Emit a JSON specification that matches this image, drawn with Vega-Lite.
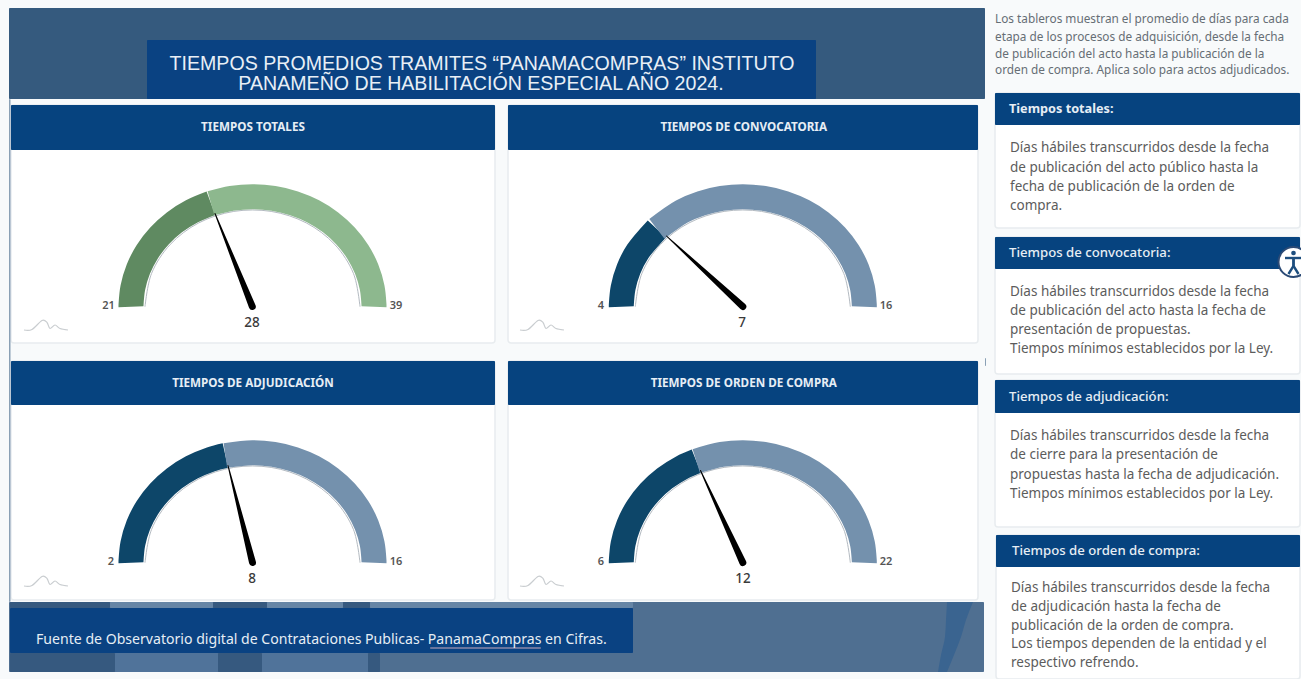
{"$schema":"https://vega.github.io/schema/vega-lite/v6.json","width":1301,"height":679,"autosize":"none","padding":0,"background":"#f8fafb","config":{"view":{"stroke":null}},
"datasets":{
"tarjetas":[{"x":11,"x2":495,"y":105,"y2":343},{"x":508,"x2":978,"y":105,"y2":343},{"x":11,"x2":495,"y":361,"y2":600},{"x":508,"x2":978,"y":361,"y2":600},{"x":995,"x2":1300,"y":93,"y2":228},{"x":995,"x2":1300,"y":237,"y2":374},{"x":995,"x2":1300,"y":380,"y2":527},{"x":996,"x2":1300,"y":535,"y2":679}],
"bloques":[{"t":"banda","x":9,"x2":985,"y":8,"y2":99},{"t":"titulo","x":147,"x2":816,"y":40,"y2":99},{"t":"filete","x":9,"x2":10.5,"y":99,"y2":602},{"t":"filete","x":985,"x2":986,"y":358,"y2":366},{"t":"pie","x":9,"x2":984,"y":602,"y2":672},{"t":"oscuro","x":10,"x2":110,"y":602,"y2":608},{"t":"claro","x":110,"x2":213,"y":602,"y2":608},{"t":"oscuro","x":213,"x2":267,"y":602,"y2":608},{"t":"claro","x":267,"x2":343,"y":602,"y2":608},{"t":"oscuro","x":343,"x2":370,"y":602,"y2":608},{"t":"claro","x":370,"x2":633,"y":602,"y2":608},{"t":"oscuro","x":10,"x2":115,"y":653,"y2":672},{"t":"medio","x":115,"x2":218,"y":653,"y2":672},{"t":"oscuro","x":218,"x2":262,"y":653,"y2":672},{"t":"medio","x":262,"x2":368,"y":653,"y2":672},{"t":"oscuro","x":368,"x2":380,"y":653,"y2":672},{"t":"titulo","x":10,"x2":633,"y":608,"y2":653},{"t":"subrayado","x":430,"x2":541,"y":647.5,"y2":648.5},{"t":"azul","x":11,"x2":495,"y":105,"y2":150},{"t":"azul","x":508,"x2":978,"y":105,"y2":150},{"t":"azul","x":11,"x2":495,"y":361,"y2":405},{"t":"azul","x":508,"x2":978,"y":361,"y2":405},{"t":"azul","x":995,"x2":1300,"y":93,"y2":125},{"t":"azul","x":995,"x2":1300,"y":237,"y2":269},{"t":"azul","x":995,"x2":1300,"y":380,"y2":413},{"t":"azul","x":996,"x2":1300,"y":535,"y2":567}],
"trazo":[{"y":602,"x":947,"x2":973},{"y":620,"x":946,"x2":966},{"y":637,"x":945,"x2":961},{"y":655,"x":941,"x2":954},{"y":672,"x":938,"x2":947}],
"anillo":[
{"g":"T","c":"vo","x":131.0,"y":306.7},{"g":"T","c":"vo","x":131.02,"y":304.8},{"g":"T","c":"vo","x":132.85,"y":287.6},{"g":"T","c":"vo","x":138.33,"y":269.1},{"g":"T","c":"vo","x":147.28,"y":251.7},{"g":"T","c":"vo","x":159.43,"y":236.0},{"g":"T","c":"vo","x":174.4,"y":222.4},{"g":"T","c":"vo","x":191.75,"y":211.4},{"g":"T","c":"vo","x":210.95,"y":203.3},
{"g":"T","c":"vc","x":210.95,"y":203.3},{"g":"T","c":"vc","x":231.41,"y":198.4},{"g":"T","c":"vc","x":252.5,"y":196.7},{"g":"T","c":"vc","x":273.59,"y":198.4},{"g":"T","c":"vc","x":294.05,"y":203.3},{"g":"T","c":"vc","x":313.25,"y":211.4},{"g":"T","c":"vc","x":330.6,"y":222.4},{"g":"T","c":"vc","x":345.57,"y":236.0},{"g":"T","c":"vc","x":357.72,"y":251.7},{"g":"T","c":"vc","x":366.67,"y":269.1},{"g":"T","c":"vc","x":372.15,"y":287.6},{"g":"T","c":"vc","x":373.98,"y":304.8},{"g":"T","c":"vc","x":374.0,"y":306.7},
{"g":"C","c":"ao","x":621.3,"y":306.7},{"g":"C","c":"ao","x":621.32,"y":304.8},{"g":"C","c":"ao","x":623.15,"y":287.6},{"g":"C","c":"ao","x":628.63,"y":269.1},{"g":"C","c":"ao","x":637.58,"y":251.7},{"g":"C","c":"ao","x":656.89,"y":228.9},
{"g":"C","c":"ac","x":656.89,"y":228.9},{"g":"C","c":"ac","x":682.05,"y":211.4},{"g":"C","c":"ac","x":701.25,"y":203.3},{"g":"C","c":"ac","x":721.71,"y":198.4},{"g":"C","c":"ac","x":742.8,"y":196.7},{"g":"C","c":"ac","x":763.89,"y":198.4},{"g":"C","c":"ac","x":784.35,"y":203.3},{"g":"C","c":"ac","x":803.55,"y":211.4},{"g":"C","c":"ac","x":820.9,"y":222.4},{"g":"C","c":"ac","x":835.87,"y":236.0},{"g":"C","c":"ac","x":848.02,"y":251.7},{"g":"C","c":"ac","x":856.97,"y":269.1},{"g":"C","c":"ac","x":862.45,"y":287.6},{"g":"C","c":"ac","x":864.28,"y":304.8},{"g":"C","c":"ac","x":864.3,"y":306.7},
{"g":"A","c":"ao","x":131.0,"y":562.7},{"g":"A","c":"ao","x":131.02,"y":560.8},{"g":"A","c":"ao","x":132.85,"y":543.6},{"g":"A","c":"ao","x":138.33,"y":525.1},{"g":"A","c":"ao","x":147.28,"y":507.7},{"g":"A","c":"ao","x":159.43,"y":492.0},{"g":"A","c":"ao","x":174.4,"y":478.4},{"g":"A","c":"ao","x":191.75,"y":467.4},{"g":"A","c":"ao","x":210.95,"y":459.3},{"g":"A","c":"ao","x":225.37,"y":455.5},
{"g":"A","c":"ac","x":225.37,"y":455.5},{"g":"A","c":"ac","x":252.5,"y":452.7},{"g":"A","c":"ac","x":273.59,"y":454.4},{"g":"A","c":"ac","x":294.05,"y":459.3},{"g":"A","c":"ac","x":313.25,"y":467.4},{"g":"A","c":"ac","x":330.6,"y":478.4},{"g":"A","c":"ac","x":345.57,"y":492.0},{"g":"A","c":"ac","x":357.72,"y":507.7},{"g":"A","c":"ac","x":366.67,"y":525.1},{"g":"A","c":"ac","x":372.15,"y":543.6},{"g":"A","c":"ac","x":373.98,"y":560.8},{"g":"A","c":"ac","x":374.0,"y":562.7},
{"g":"O","c":"ao","x":621.3,"y":562.7},{"g":"O","c":"ao","x":621.32,"y":560.8},{"g":"O","c":"ao","x":623.15,"y":543.6},{"g":"O","c":"ao","x":628.63,"y":525.1},{"g":"O","c":"ao","x":637.58,"y":507.7},{"g":"O","c":"ao","x":649.73,"y":492.0},{"g":"O","c":"ao","x":664.7,"y":478.4},{"g":"O","c":"ao","x":682.05,"y":467.4},{"g":"O","c":"ao","x":696.3,"y":461.1},
{"g":"O","c":"ac","x":696.3,"y":461.1},{"g":"O","c":"ac","x":721.71,"y":454.4},{"g":"O","c":"ac","x":742.8,"y":452.7},{"g":"O","c":"ac","x":763.89,"y":454.4},{"g":"O","c":"ac","x":784.35,"y":459.3},{"g":"O","c":"ac","x":803.55,"y":467.4},{"g":"O","c":"ac","x":820.9,"y":478.4},{"g":"O","c":"ac","x":835.87,"y":492.0},{"g":"O","c":"ac","x":848.02,"y":507.7},{"g":"O","c":"ac","x":856.97,"y":525.1},{"g":"O","c":"ac","x":862.45,"y":543.6},{"g":"O","c":"ac","x":864.28,"y":560.8},{"g":"O","c":"ac","x":864.3,"y":562.7}],
"gris":[
{"g":"T","x":145.0,"y":306.7},{"g":"T","x":151.5,"y":273.6},{"g":"T","x":170.2,"y":244.5},{"g":"T","x":198.75,"y":222.9},{"g":"T","x":233.8,"y":211.4},{"g":"T","x":271.2,"y":211.4},{"g":"T","x":306.25,"y":222.9},{"g":"T","x":334.8,"y":244.5},{"g":"T","x":353.5,"y":273.6},{"g":"T","x":360.0,"y":306.7},
{"g":"C","x":635.3,"y":306.7},{"g":"C","x":641.8,"y":273.6},{"g":"C","x":660.5,"y":244.5},{"g":"C","x":689.05,"y":222.9},{"g":"C","x":724.1,"y":211.4},{"g":"C","x":761.5,"y":211.4},{"g":"C","x":796.55,"y":222.9},{"g":"C","x":825.1,"y":244.5},{"g":"C","x":843.8,"y":273.6},{"g":"C","x":850.3,"y":306.7},
{"g":"A","x":145.0,"y":562.7},{"g":"A","x":151.5,"y":529.6},{"g":"A","x":170.2,"y":500.5},{"g":"A","x":198.75,"y":478.9},{"g":"A","x":233.8,"y":467.4},{"g":"A","x":271.2,"y":467.4},{"g":"A","x":306.25,"y":478.9},{"g":"A","x":334.8,"y":500.5},{"g":"A","x":353.5,"y":529.6},{"g":"A","x":360.0,"y":562.7},
{"g":"O","x":635.3,"y":562.7},{"g":"O","x":641.8,"y":529.6},{"g":"O","x":660.5,"y":500.5},{"g":"O","x":689.05,"y":478.9},{"g":"O","x":724.1,"y":467.4},{"g":"O","x":761.5,"y":467.4},{"g":"O","x":796.55,"y":478.9},{"g":"O","x":825.1,"y":500.5},{"g":"O","x":843.8,"y":529.6},{"g":"O","x":850.3,"y":562.7}],
"agujas":[{"g":"T","p":0,"x":252.3,"y":306.5},{"g":"T","p":1,"x":215,"y":213.5},{"g":"C","p":0,"x":742.8,"y":306.5},{"g":"C","p":1,"x":666.5,"y":236},{"g":"A","p":0,"x":252.5,"y":562.5},{"g":"A","p":1,"x":228,"y":465.5},{"g":"O","p":0,"x":742.8,"y":562.5},{"g":"O","p":1,"x":700.5,"y":470.5}],
"ondas":[
{"g":"T","x":24,"y":330},{"g":"T","x":32,"y":329.5},{"g":"T","x":42,"y":320.5},{"g":"T","x":47,"y":322.5},{"g":"T","x":50,"y":328.5},{"g":"T","x":55,"y":325},{"g":"T","x":60,"y":328.5},{"g":"T","x":68,"y":330},
{"g":"C","x":520,"y":330},{"g":"C","x":528,"y":329.5},{"g":"C","x":538,"y":320.5},{"g":"C","x":543,"y":322.5},{"g":"C","x":546,"y":328.5},{"g":"C","x":551,"y":325},{"g":"C","x":556,"y":328.5},{"g":"C","x":564,"y":330},
{"g":"A","x":24,"y":586},{"g":"A","x":32,"y":585.5},{"g":"A","x":42,"y":576.5},{"g":"A","x":47,"y":578.5},{"g":"A","x":50,"y":584.5},{"g":"A","x":55,"y":581},{"g":"A","x":60,"y":584.5},{"g":"A","x":68,"y":586},
{"g":"O","x":520,"y":586},{"g":"O","x":528,"y":585.5},{"g":"O","x":538,"y":576.5},{"g":"O","x":543,"y":578.5},{"g":"O","x":546,"y":584.5},{"g":"O","x":551,"y":581},{"g":"O","x":556,"y":584.5},{"g":"O","x":564,"y":586}],
"extremos":[{"txt":"21","x":108.5,"y":306},{"txt":"39","x":396,"y":306},{"txt":"4","x":601,"y":306},{"txt":"16","x":886,"y":306},{"txt":"2","x":111,"y":562},{"txt":"16","x":396,"y":562},{"txt":"6","x":601,"y":562},{"txt":"22","x":886,"y":562}],
"valores":[{"txt":"28","x":252,"y":323},{"txt":"7","x":742,"y":323},{"txt":"8","x":252,"y":579},{"txt":"12","x":743,"y":579}],
"titulo":[{"txt":"TIEMPOS PROMEDIOS TRAMITES “PANAMACOMPRAS” INSTITUTO","x":482,"y":63.5},{"txt":"PANAMEÑO DE HABILITACIÓN ESPECIAL AÑO 2024.","x":481,"y":84}],
"cabeceras":[{"txt":"TIEMPOS TOTALES","x":253,"y":127},{"txt":"TIEMPOS DE CONVOCATORIA","x":743.7,"y":127},{"txt":"TIEMPOS DE ADJUDICACIÓN","x":253,"y":382.7},{"txt":"TIEMPOS DE ORDEN DE COMPRA","x":743.8,"y":382.7}],
"pie":[{"txt":"Fuente de Observatorio digital de Contrataciones Publicas- PanamaCompras en Cifras.","x":36,"y":640}],
"nota":[{"txt":"Los tableros muestran el promedio de días para cada","x":995,"y":19},{"txt":"etapa de los procesos de adquisición, desde la fecha","x":995,"y":36.5},{"txt":"de publicación del acto hasta la publicación de la","x":995,"y":54},{"txt":"orden de compra. Aplica solo para actos adjudicados.","x":995,"y":70}],
"subtitulos":[{"txt":"Tiempos de convocatoria:","x":1009,"y":253},{"txt":"Tiempos de adjudicación:","x":1009,"y":396.7},{"txt":"Tiempos de orden de compra:","x":1012,"y":551}],
"subtituloFuerte":[{"txt":"Tiempos totales:","x":1009,"y":108.5}],
"cuerpo":[{"txt":"Días hábiles transcurridos desde la fecha","x":1010,"y":148},{"txt":"de publicación del acto público hasta la","x":1010,"y":168},{"txt":"fecha de publicación de la orden de","x":1010,"y":187},{"txt":"compra.","x":1010,"y":206},{"txt":"Días hábiles transcurridos desde la fecha","x":1010,"y":291.7},{"txt":"de publicación del acto hasta la fecha de","x":1010,"y":311},{"txt":"presentación de propuestas.","x":1010,"y":330},{"txt":"Tiempos mínimos establecidos por la Ley.","x":1010,"y":349},{"txt":"Días hábiles transcurridos desde la fecha","x":1010,"y":436},{"txt":"de cierre para la presentación de","x":1010,"y":455},{"txt":"propuestas hasta la fecha de adjudicación.","x":1010,"y":474.7},{"txt":"Tiempos mínimos establecidos por la Ley.","x":1010,"y":494},{"txt":"Días hábiles transcurridos desde la fecha","x":1011,"y":588},{"txt":"de adjudicación hasta la fecha de","x":1011,"y":607},{"txt":"publicación de la orden de compra.","x":1011,"y":626},{"txt":"Los tiempos dependen de la entidad y el","x":1011,"y":644},{"txt":"respectivo refrendo.","x":1011,"y":662.7}],
"icono":[{"x":1293.5,"y":262}],
"cabeza":[{"x":1293.5,"y":253}],
"figura":[{"k":"brazos","i":0,"x":1285,"y":258},{"k":"brazos","i":1,"x":1302,"y":258},{"k":"izq","i":0,"x":1293.5,"y":258},{"k":"izq","i":1,"x":1293.5,"y":266},{"k":"izq","i":2,"x":1288.5,"y":274},{"k":"der","i":0,"x":1293.5,"y":258},{"k":"der","i":1,"x":1293.5,"y":266},{"k":"der","i":2,"x":1298.5,"y":274}]
},
"encoding":{"x":{"field":"x","type":"quantitative","scale":{"domain":[0,1301],"nice":false,"zero":false},"axis":null},"y":{"field":"y","type":"quantitative","scale":{"domain":[679,0],"nice":false,"zero":false},"axis":null}},
"layer":[
{"data":{"name":"tarjetas"},"mark":{"type":"rect","fill":"#ffffff","stroke":"#e8ecef","strokeWidth":1.5,"cornerRadius":3},"encoding":{"x2":{"field":"x2"},"y2":{"field":"y2"}}},
{"data":{"name":"bloques"},"mark":{"type":"rect","cornerRadius":1},"encoding":{"x2":{"field":"x2"},"y2":{"field":"y2"},"fill":{"field":"t","type":"nominal","legend":null,"scale":{"domain":["banda","titulo","filete","pie","oscuro","claro","medio","subrayado","azul"],"range":["#355a7e","#0a4282","#8aa0b5","#4f6f91","#36597f","#6685a5","#50739a","#c9a9bb","#06437f"]}}}},
{"data":{"name":"trazo"},"mark":{"type":"area","orient":"horizontal","color":"#3a6490","opacity":1,"interpolate":"monotone"},"encoding":{"x2":{"field":"x2"}}},
{"data":{"name":"gris"},"mark":{"type":"line","stroke":"#b3bac1","strokeWidth":1,"interpolate":"cardinal"},"encoding":{"detail":{"field":"g"}}},
{"data":{"name":"anillo"},"mark":{"type":"line","strokeWidth":25,"strokeCap":"butt","strokeJoin":"round","interpolate":"catmull-rom"},"encoding":{"detail":{"field":"g"},"stroke":{"field":"c","type":"nominal","legend":null,"scale":{"domain":["vo","vc","ao","ac"],"range":["#5f8a61","#8db88e","#0d4669","#7491ad"]}}}},
{"data":{"name":"agujas"},"mark":{"type":"trail","color":"#000000"},"encoding":{"detail":{"field":"g"},"order":{"field":"p"},"size":{"field":"p","type":"quantitative","legend":null,"scale":{"domain":[0,1],"range":[7,1],"zero":false}}}},
{"data":{"name":"ondas"},"mark":{"type":"line","stroke":"#c9cdd0","strokeWidth":1.2,"interpolate":"cardinal"},"encoding":{"detail":{"field":"g"}}},
{"data":{"name":"extremos"},"mark":{"type":"text","font":"Noto Sans","fontSize":11,"fontWeight":600,"color":"#555555","align":"center","baseline":"middle"},"encoding":{"text":{"field":"txt"}}},
{"data":{"name":"valores"},"mark":{"type":"text","font":"Noto Sans","fontSize":13.5,"fontWeight":500,"color":"#3a3a3a","align":"center","baseline":"middle"},"encoding":{"text":{"field":"txt"}}},
{"data":{"name":"titulo"},"mark":{"type":"text","font":"Liberation Sans","fontSize":19.6,"color":"#e8eff6","align":"center","baseline":"middle"},"encoding":{"text":{"field":"txt"}}},
{"data":{"name":"cabeceras"},"mark":{"type":"text","font":"Noto Sans","fontSize":11.7,"fontWeight":700,"color":"#e6eef5","align":"center","baseline":"middle"},"encoding":{"text":{"field":"txt"}}},
{"data":{"name":"pie"},"mark":{"type":"text","font":"Noto Sans","fontSize":14.1,"color":"#e6eef5","align":"left","baseline":"middle"},"encoding":{"text":{"field":"txt"}}},
{"data":{"name":"nota"},"mark":{"type":"text","font":"Noto Sans","fontSize":11.8,"color":"#666e75","align":"left","baseline":"middle"},"encoding":{"text":{"field":"txt"}}},
{"data":{"name":"subtitulos"},"mark":{"type":"text","font":"Noto Sans","fontSize":13.2,"fontWeight":500,"color":"#e6eef5","align":"left","baseline":"middle"},"encoding":{"text":{"field":"txt"}}},
{"data":{"name":"subtituloFuerte"},"mark":{"type":"text","font":"Noto Sans","fontSize":12.7,"fontWeight":700,"color":"#e6eef5","align":"left","baseline":"middle"},"encoding":{"text":{"field":"txt"}}},
{"data":{"name":"cuerpo"},"mark":{"type":"text","font":"Noto Sans","fontSize":13.5,"color":"#5c5c5c","align":"left","baseline":"middle"},"encoding":{"text":{"field":"txt"}}},
{"data":{"name":"icono"},"mark":{"type":"point","filled":true,"fill":"#ffffff","stroke":"#2b4a75","strokeWidth":2,"size":900,"opacity":1},"encoding":{}},
{"data":{"name":"cabeza"},"mark":{"type":"point","filled":true,"color":"#1d4e7e","size":22,"opacity":1},"encoding":{}},
{"data":{"name":"figura"},"mark":{"type":"line","stroke":"#1d4e7e","strokeWidth":2.4},"encoding":{"detail":{"field":"k"},"order":{"field":"i"}}}
]}
